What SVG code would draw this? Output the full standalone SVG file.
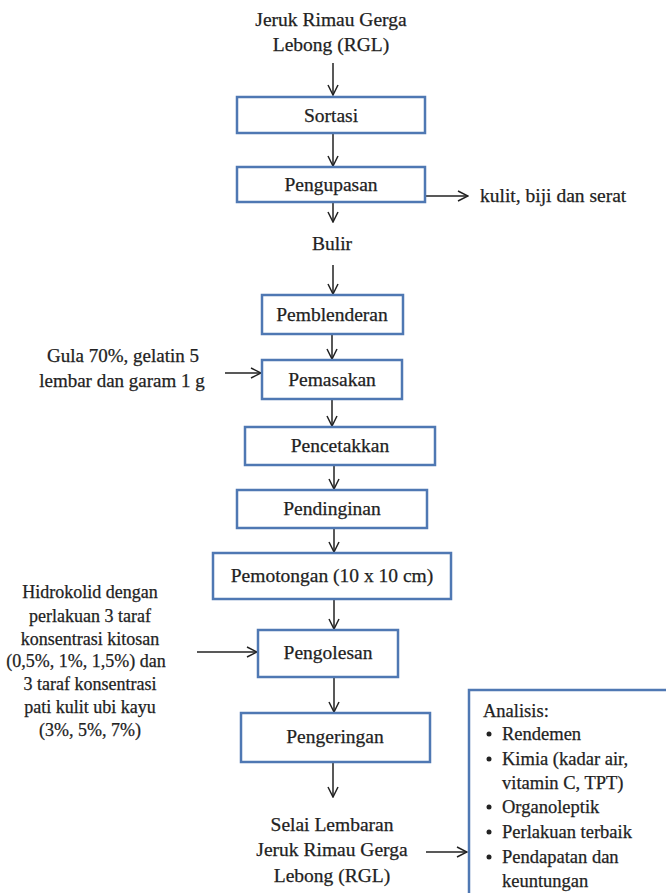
<svg xmlns="http://www.w3.org/2000/svg" width="666" height="893" viewBox="0 0 666 893">
<style>
text{font-family:"Liberation Serif","Times New Roman",serif;font-size:19.5px;fill:#222;stroke:#222;stroke-width:0.25;}
.c{text-anchor:middle;}
.s18{font-size:18px;}
.s19{font-size:19px;}
.a{font-size:18.5px;}
.box{fill:#fff;stroke:#4f78b3;stroke-width:2.5;}
.ln{stroke:#222;stroke-width:1.5;fill:none;}
</style>
<defs>
<marker id="ah" viewBox="0 0 12 12" refX="11" refY="6" markerWidth="12" markerHeight="12" markerUnits="userSpaceOnUse" orient="auto">
<path d="M1,1 L11,6 L1,11" fill="none" stroke="#222" stroke-width="1.5"/>
</marker>
</defs>
<rect width="666" height="893" fill="#fff"/>
<g id="connectors">
<line class="ln" x1="333" y1="63" x2="333" y2="95" marker-end="url(#ah)"/>
<line class="ln" x1="333" y1="133" x2="333" y2="166" marker-end="url(#ah)"/>
<line class="ln" x1="426" y1="196" x2="468" y2="196" marker-end="url(#ah)"/>
<line class="ln" x1="333" y1="202" x2="333" y2="222" marker-end="url(#ah)"/>
<line class="ln" x1="333" y1="265" x2="333" y2="294" marker-end="url(#ah)"/>
<line class="ln" x1="332" y1="334" x2="332" y2="359" marker-end="url(#ah)"/>
<line class="ln" x1="225" y1="373" x2="261" y2="373" marker-end="url(#ah)"/>
<line class="ln" x1="332" y1="399" x2="332" y2="426" marker-end="url(#ah)"/>
<line class="ln" x1="334" y1="465" x2="334" y2="489" marker-end="url(#ah)"/>
<line class="ln" x1="334" y1="528" x2="334" y2="552" marker-end="url(#ah)"/>
<line class="ln" x1="334" y1="600" x2="334" y2="629" marker-end="url(#ah)"/>
<line class="ln" x1="197" y1="652" x2="257" y2="652" marker-end="url(#ah)"/>
<line class="ln" x1="334" y1="677" x2="334" y2="712" marker-end="url(#ah)"/>
<line class="ln" x1="333" y1="762" x2="333" y2="797" marker-end="url(#ah)"/>
<line class="ln" x1="426" y1="852" x2="467" y2="852" marker-end="url(#ah)"/>
</g>
<g id="start">
<text class="c" x="331" y="26">Jeruk Rimau Gerga</text>
<text class="c" x="331" y="51">Lebong (RGL)</text>
</g>
<g id="sortasi"><rect class="box" x="237" y="97" width="188" height="36"/><text class="c" x="331" y="122">Sortasi</text></g>
<g id="pengupasan"><rect class="box" x="237" y="167" width="188" height="35"/><text class="c" x="331" y="191">Pengupasan</text></g>
<g id="kulit"><text x="480" y="202">kulit, biji dan serat</text></g>
<g id="bulir"><text class="c" x="332" y="250">Bulir</text></g>
<g id="pemblenderan"><rect class="box" x="262" y="295" width="141" height="39"/><text class="c" x="332" y="321">Pemblenderan</text></g>
<g id="gula">
<text class="c s19" x="123" y="362">Gula 70%, gelatin 5</text>
<text class="c s19" x="122" y="387">lembar dan garam 1 g</text>
</g>
<g id="pemasakan"><rect class="box" x="262" y="360" width="140" height="39"/><text class="c" x="332" y="386">Pemasakan</text></g>
<g id="pencetakkan"><rect class="box" x="245" y="427" width="190" height="38"/><text class="c" x="340" y="452">Pencetakkan</text></g>
<g id="pendinginan"><rect class="box" x="237" y="490" width="190" height="38"/><text class="c" x="332" y="515">Pendinginan</text></g>
<g id="pemotongan"><rect class="box" x="213" y="553" width="238" height="46"/><text class="c" x="332" y="582">Pemotongan (10 x 10 cm)</text></g>
<g id="hidrokolid">
<text class="c s18" x="90" y="598">Hidrokolid dengan</text>
<text class="c s18" x="90" y="622">perlakuan 3 taraf</text>
<text class="c s18" x="90" y="645">konsentrasi kitosan</text>
<text class="c s18" x="86" y="667">(0,5%, 1%, 1,5%) dan</text>
<text class="c s18" x="90" y="690">3 taraf konsentrasi</text>
<text class="c s18" x="90" y="713">pati kulit ubi kayu</text>
<text class="c s18" x="90" y="736">(3%, 5%, 7%)</text>
</g>
<g id="pengolesan"><rect class="box" x="258" y="630" width="140" height="47"/><text class="c" x="328" y="659">Pengolesan</text></g>
<g id="pengeringan"><rect class="box" x="241" y="713" width="189" height="49"/><text class="c" x="335" y="743">Pengeringan</text></g>
<g id="selai">
<text class="c" x="332" y="831">Selai Lembaran</text>
<text class="c" x="332" y="856">Jeruk Rimau Gerga</text>
<text class="c" x="332" y="882">Lebong (RGL)</text>
</g>
<g id="analisis">
<rect class="box" x="469" y="690" width="200" height="210"/>
<text class="a" x="483" y="717">Analisis:</text>
<circle cx="489" cy="734" r="2.5" fill="#222"/><text class="a" x="502" y="740">Rendemen</text>
<circle cx="489" cy="759" r="2.5" fill="#222"/><text class="a" x="502" y="765">Kimia (kadar air,</text>
<text class="a" x="502" y="789">vitamin C, TPT)</text>
<circle cx="489" cy="807" r="2.5" fill="#222"/><text class="a" x="502" y="813">Organoleptik</text>
<circle cx="489" cy="832" r="2.5" fill="#222"/><text class="a" x="502" y="838">Perlakuan terbaik</text>
<circle cx="489" cy="857" r="2.5" fill="#222"/><text class="a" x="502" y="863">Pendapatan dan</text>
<text class="a" x="502" y="887">keuntungan</text>
</g>
</svg>
